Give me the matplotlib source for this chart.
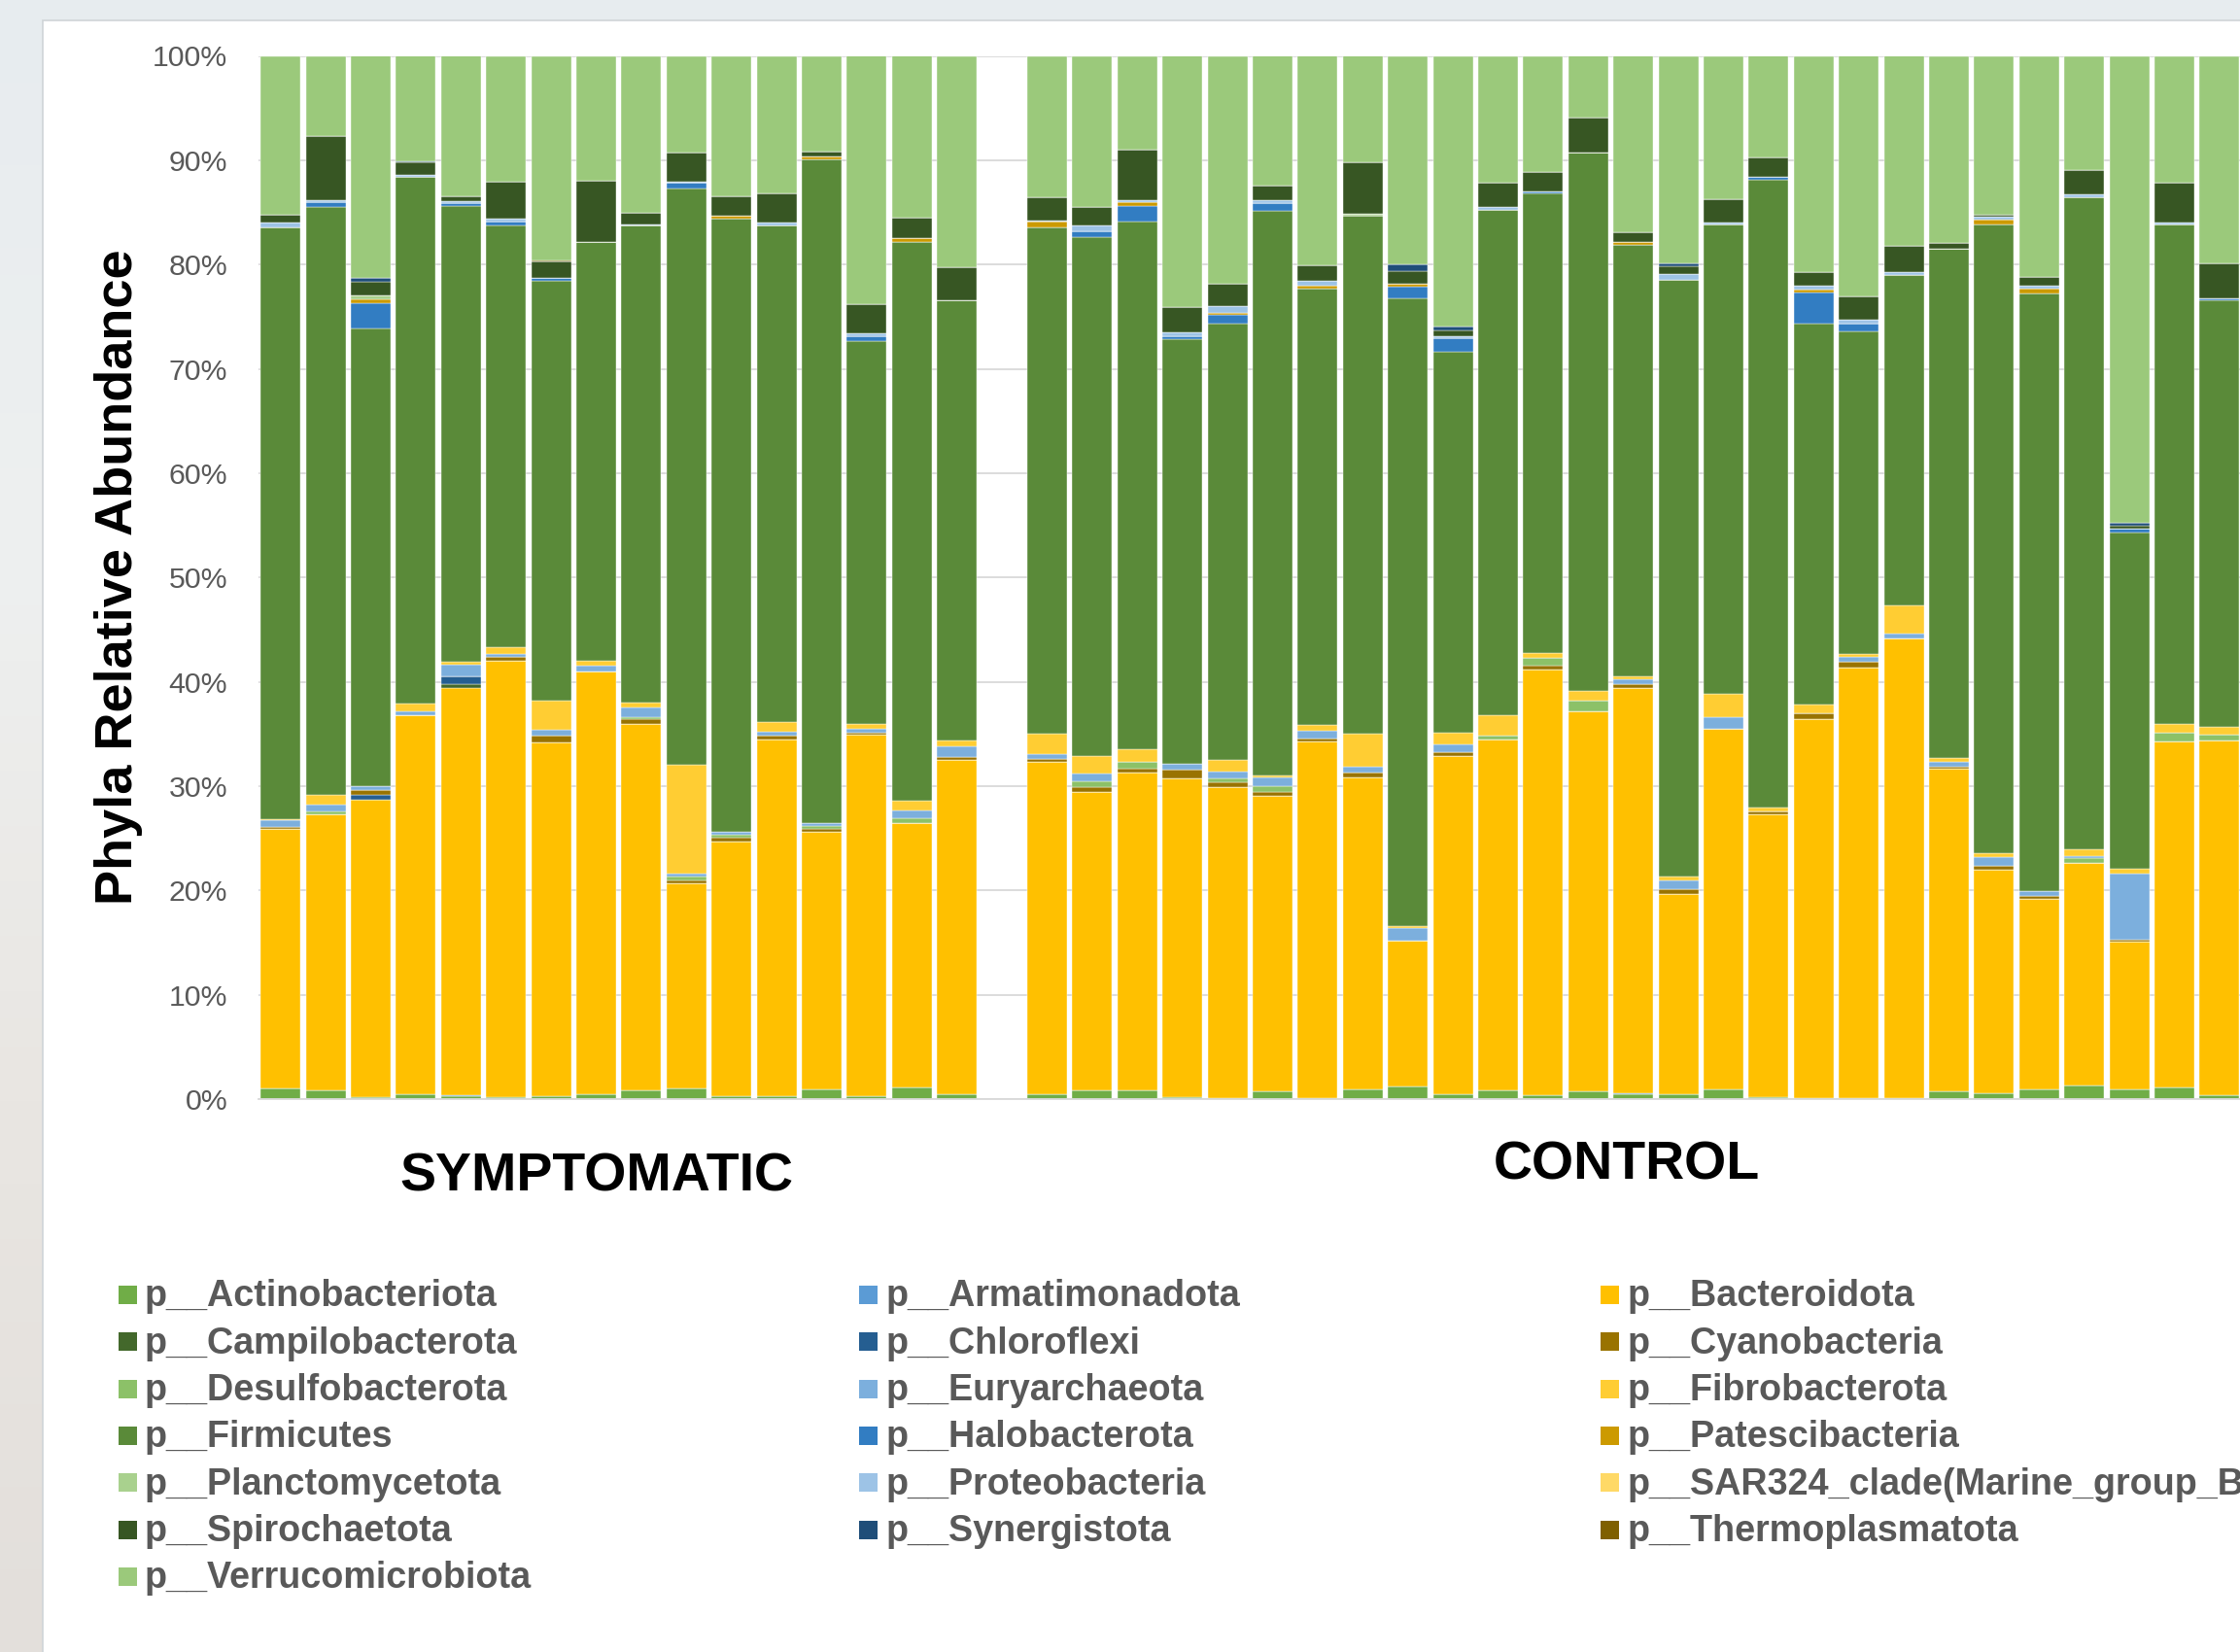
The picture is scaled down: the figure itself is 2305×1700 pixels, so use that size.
import numpy as np
import matplotlib
matplotlib.use("Agg")
import matplotlib.pyplot as plt
from matplotlib.patches import Rectangle
from matplotlib.colors import LinearSegmentedColormap

plt.rcParams['font.family'] = ['Liberation Sans', 'DejaVu Sans']

# 16 symptomatic samples followed by 27 control samples (relative abundance, %)
n_sym = 16
n_ctl = 27

phyla = ["p__Actinobacteriota", "p__Armatimonadota", "p__Bacteroidota",
         "p__Campilobacterota", "p__Chloroflexi", "p__Cyanobacteria",
         "p__Desulfobacterota", "p__Euryarchaeota", "p__Fibrobacterota",
         "p__Firmicutes", "p__Halobacterota", "p__Patescibacteria",
         "p__Planctomycetota", "p__Proteobacteria", "p__SAR324_clade(Marine_group_B)",
         "p__Spirochaetota", "p__Synergistota", "p__Thermoplasmatota",
         "p__Verrucomicrobiota"]

colors = ["#70AD47", "#5B9BD5", "#FFC000",
          "#43682B", "#255E91", "#997300",
          "#8CC168", "#7CAFDD", "#FFCD33",
          "#5A8A39", "#327DC2", "#CC9A00",
          "#A9D18E", "#9DC3E6", "#FFD966",
          "#375623", "#1F4E79", "#7F6000",
          "#9BC97B"]

actinobacteriota = [1.0, 0.8, 0.2, 0.5, 0.3, 0.2, 0.3, 0.5, 0.8, 1.0, 0.3, 0.3, 0.9, 0.3, 1.1, 0.5,
                    0.5, 0.8, 0.8, 0.2, 0.1, 0.7, 0.1, 0.9, 1.2, 0.5, 0.8, 0.4, 0.7, 0.5, 0.5, 0.9,
                    0.2, 0.1, 0.1, 0.1, 0.7, 0.6, 0.9, 1.3, 0.9, 1.1, 0.4]
armatimonadota = [0, 0, 0, 0, 0.1, 0, 0, 0, 0, 0, 0, 0, 0, 0, 0, 0,
                  0, 0, 0, 0, 0, 0, 0, 0, 0, 0, 0, 0, 0, 0.1, 0, 0,
                  0, 0, 0, 0, 0, 0, 0, 0, 0, 0, 0]
bacteroidota = [24.9, 26.5, 28.5, 36.3, 39.0, 41.8, 33.9, 40.5, 35.2, 19.7, 24.4, 34.2, 24.7, 34.6, 25.4, 32.0,
                31.8, 28.6, 30.5, 30.5, 29.8, 28.4, 34.2, 29.9, 14.0, 32.4, 33.7, 40.8, 36.5, 38.8, 19.2, 34.6,
                27.1, 36.3, 41.3, 44.1, 31.0, 21.4, 18.3, 21.3, 14.2, 33.2, 34.0]
campilobacterota = [0, 0, 0, 0, 0.4, 0, 0, 0, 0, 0, 0, 0, 0, 0, 0, 0,
                    0, 0, 0, 0, 0, 0, 0, 0, 0, 0, 0, 0, 0, 0, 0, 0,
                    0, 0, 0, 0, 0, 0, 0, 0, 0, 0, 0]
chloroflexi = [0, 0, 0.5, 0, 0.7, 0, 0, 0, 0, 0, 0, 0, 0, 0, 0, 0,
               0, 0, 0, 0, 0, 0, 0, 0, 0, 0, 0, 0, 0, 0, 0, 0,
               0, 0, 0, 0, 0, 0, 0, 0, 0, 0, 0]
cyanobacteria = [0.2, 0, 0.4, 0, 0, 0.4, 0.6, 0, 0.4, 0.3, 0.4, 0.3, 0.3, 0.2, 0, 0.3,
                 0.3, 0.5, 0.4, 0.9, 0.5, 0.3, 0.3, 0.5, 0, 0.4, 0, 0.3, 0, 0.4, 0.4, 0,
                 0.3, 0.6, 0.5, 0, 0.2, 0.4, 0.3, 0, 0.2, 0, 0]
desulfobacterota = [0, 0.3, 0, 0, 0, 0, 0, 0, 0.2, 0.3, 0.2, 0, 0.3, 0, 0.4, 0,
                    0, 0.6, 0.6, 0, 0.3, 0.6, 0, 0, 0, 0, 0.3, 0.8, 1.0, 0, 0, 0,
                    0, 0, 0, 0, 0, 0, 0, 0.5, 0, 0.8, 0.5]
euryarchaeota = [0.6, 0.6, 0.4, 0.4, 1.1, 0.3, 0.6, 0.5, 0.9, 0.3, 0.3, 0.4, 0.3, 0.4, 0.8, 1.0,
                 0.5, 0.7, 0, 0.5, 0.7, 0.8, 0.7, 0.6, 1.2, 0.7, 0, 0, 0, 0.4, 0.9, 1.1,
                 0, 0, 0.5, 0.4, 0.4, 0.8, 0.4, 0.2, 6.3, 0, 0]
fibrobacterota = [0.1, 1.0, 0, 0.7, 0.3, 0.6, 2.8, 0.5, 0.5, 10.4, 0, 0.9, 0, 0.5, 0.9, 0.6,
                  1.9, 1.7, 1.2, 0, 1.1, 0.2, 0.6, 3.1, 0.2, 1.1, 2.0, 0.5, 0.9, 0.3, 0.3, 2.2,
                  0.3, 0.8, 0.3, 2.7, 0.4, 0.4, 0, 0.6, 0.5, 0.9, 0.8]
firmicutes = [56.8, 56.3, 43.9, 50.5, 43.7, 40.4, 40.2, 40.2, 45.7, 55.3, 58.8, 47.6, 63.6, 36.7, 53.6, 42.2,
              48.6, 49.7, 50.6, 40.7, 41.8, 54.1, 41.8, 49.7, 60.2, 36.5, 48.4, 44.0, 51.6, 41.4, 57.2, 45.0,
              60.2, 36.5, 30.9, 31.7, 48.8, 60.2, 57.3, 62.5, 32.2, 47.8, 40.9]
halobacterota = [0, 0.5, 2.4, 0, 0.3, 0.4, 0.3, 0, 0, 0.5, 0, 0, 0, 0.4, 0, 0,
                 0, 0.6, 1.5, 0.3, 0.9, 0.8, 0, 0, 1.1, 1.3, 0, 0.2, 0, 0, 0, 0,
                 0.3, 3.0, 0.7, 0, 0, 0, 0, 0, 0.4, 0, 0.2]
patescibacteria = [0, 0, 0.4, 0, 0, 0, 0, 0, 0, 0, 0.3, 0, 0.3, 0, 0.3, 0,
                   0.5, 0, 0.4, 0, 0.2, 0, 0.3, 0, 0.3, 0, 0, 0, 0, 0.3, 0, 0,
                   0, 0.3, 0, 0, 0, 0.5, 0.5, 0, 0, 0, 0]
planctomycetota = [0, 0, 0.3, 0, 0, 0, 0, 0, 0, 0, 0, 0, 0, 0, 0, 0,
                   0, 0, 0, 0, 0, 0, 0, 0.2, 0, 0, 0, 0, 0, 0, 0, 0,
                   0, 0, 0, 0, 0, 0, 0, 0, 0, 0, 0]
proteobacteria = [0.4, 0.2, 0, 0.2, 0.2, 0.3, 0, 0, 0.1, 0.1, 0, 0.3, 0, 0.3, 0, 0,
                  0.1, 0.5, 0.2, 0.4, 0.6, 0.3, 0.4, 0, 0, 0.2, 0.3, 0, 0, 0, 0.6, 0.2,
                  0, 0.4, 0.4, 0.3, 0, 0.3, 0.3, 0.3, 0, 0.2, 0]
sar324 = [0, 0, 0, 0, 0, 0, 0, 0, 0, 0, 0, 0, 0, 0, 0, 0,
          0, 0, 0, 0, 0, 0, 0, 0, 0, 0, 0, 0, 0, 0, 0, 0,
          0, 0, 0, 0, 0, 0, 0, 0, 0, 0, 0]
spirochaetota = [0.8, 6.1, 1.3, 1.2, 0.4, 3.5, 1.6, 5.8, 1.2, 2.8, 1.8, 2.8, 0.4, 2.8, 2.0, 3.1,
                 2.2, 1.8, 4.8, 2.4, 2.2, 1.4, 1.5, 4.9, 1.2, 0.6, 2.3, 1.9, 3.4, 0.9, 0.7, 2.3,
                 1.9, 1.3, 2.2, 2.5, 0.6, 0.2, 0.8, 2.4, 0.3, 3.8, 3.3]
synergistota = [0, 0, 0.4, 0.1, 0, 0, 0, 0, 0, 0, 0, 0, 0, 0, 0, 0,
                0, 0, 0, 0, 0, 0, 0, 0, 0.6, 0.4, 0, 0, 0, 0, 0.3, 0,
                0, 0, 0, 0, 0, 0, 0, 0, 0.2, 0, 0]
thermoplasmatota = [0, 0, 0, 0, 0, 0, 0.1, 0, 0, 0, 0, 0, 0, 0, 0, 0,
                    0, 0, 0, 0, 0, 0, 0, 0, 0, 0, 0, 0, 0, 0, 0, 0,
                    0, 0, 0, 0, 0, 0, 0, 0, 0, 0, 0]
verrucomicrobiota = [15.2, 7.7, 21.3, 10.1, 13.6, 12.1, 19.6, 12.0, 15.0, 9.3, 13.5, 13.2, 9.2, 23.8, 15.5, 20.3,
                     13.6, 14.5, 9.0, 24.1, 21.8, 12.4, 20.1, 10.2, 20.0, 25.9, 12.2, 11.1, 5.9, 17.0, 19.9, 13.7,
                     9.7, 20.7, 23.1, 18.2, 17.9, 15.2, 21.2, 10.9, 44.8, 12.2, 19.9]

series = [actinobacteriota, armatimonadota, bacteroidota, campilobacterota, chloroflexi,
          cyanobacteria, desulfobacterota, euryarchaeota, fibrobacterota, firmicutes,
          halobacterota, patescibacteria, planctomycetota, proteobacteria, sar324,
          spirochaetota, synergistota, thermoplasmatota, verrucomicrobiota]

ytick_vals = [0, 10, 20, 30, 40, 50, 60, 70, 80, 90, 100]
ytick_labels = ["0%", "10%", "20%", "30%", "40%", "50%", "60%", "70%", "80%", "90%", "100%"]

W, H = 2305, 1700
fig = plt.figure(figsize=(W / 100, H / 100), dpi=100)

# screen backdrop behind the white chart card
bg = fig.add_axes([0, 0, 1, 1], zorder=0)
bg.axis("off")
shade = LinearSegmentedColormap.from_list("shade", ["#E7ECEF", "#EEF0F0", "#E9E6E2", "#E3DFDB"])
bg.imshow(np.linspace(0, 1, 60).reshape(-1, 1), cmap=shade, aspect="auto", extent=[0, 1, 0, 1])
bg.set_xlim(0, 1)
bg.set_ylim(0, 1)
bg.add_patch(Rectangle((44 / W, -0.01), 1, 1.01 - 21 / H, facecolor="white",
                       edgecolor="#CFD4D8", lw=1.2))

ax = fig.add_axes([265.6 / W, 1 - 1131 / H, (2307 - 265.6) / W, (1131 - 57.5) / H], zorder=1)
ax.set_facecolor("none")

x = np.concatenate([np.arange(n_sym), np.arange(n_sym + 1, n_sym + 1 + n_ctl)])
bottom = np.zeros(len(x))
for vals, c in zip(series, colors):
    vals = np.array(vals)
    ax.bar(x, vals, bottom=bottom, width=0.884, color=c, edgecolor="white", linewidth=0.3)
    bottom += vals

ax.set_xlim(-0.5, n_sym + n_ctl + 0.5)
ax.set_ylim(0, 100)
ax.set_yticks(ytick_vals)
ax.set_yticklabels(ytick_labels)
ax.yaxis.grid(True, color="#D9D9D9", lw=1.3)
ax.set_axisbelow(True)
for s in ["left", "right", "top"]:
    ax.spines[s].set_visible(False)
ax.spines["bottom"].set_color("#D9D9D9")
ax.spines["bottom"].set_linewidth(1.3)
ax.tick_params(left=False, bottom=False, labelbottom=False,
               labelsize=21.8, labelcolor="#595959", pad=19)

fig.text(122 / W, 1 - 594 / H, "Phyla Relative Abundance", rotation=90,
         ha="center", va="center", fontsize=39, fontweight="bold", color="black")

fig.text(613.5 / W, 1 - 1226 / H, "SYMPTOMATIC", ha="center", va="baseline",
         fontsize=40, fontweight="bold", color="black")
fig.text(1673.5 / W, 1 - 1214 / H, "CONTROL", ha="center", va="baseline",
         fontsize=40, fontweight="bold", color="black")

# legend, filled row by row in three columns
marker_x = [121.7, 883.6, 1647]
text_x = [149, 911.6, 1674.5]
for i, (name, c) in enumerate(zip(phyla, colors)):
    row, col = divmod(i, 3)
    cy = 1332.5 + row * 48.3
    fig.add_artist(Rectangle((marker_x[col] / W, 1 - (cy + 9.5) / H), 19 / W, 19 / H,
                             transform=fig.transFigure, facecolor=c, edgecolor="none"))
    fig.text(text_x[col] / W, 1 - (cy + 12) / H, name, ha="left", va="baseline",
             fontsize=27.2, fontweight="bold", color="#595959")

fig.savefig("out.png", dpi=100)
